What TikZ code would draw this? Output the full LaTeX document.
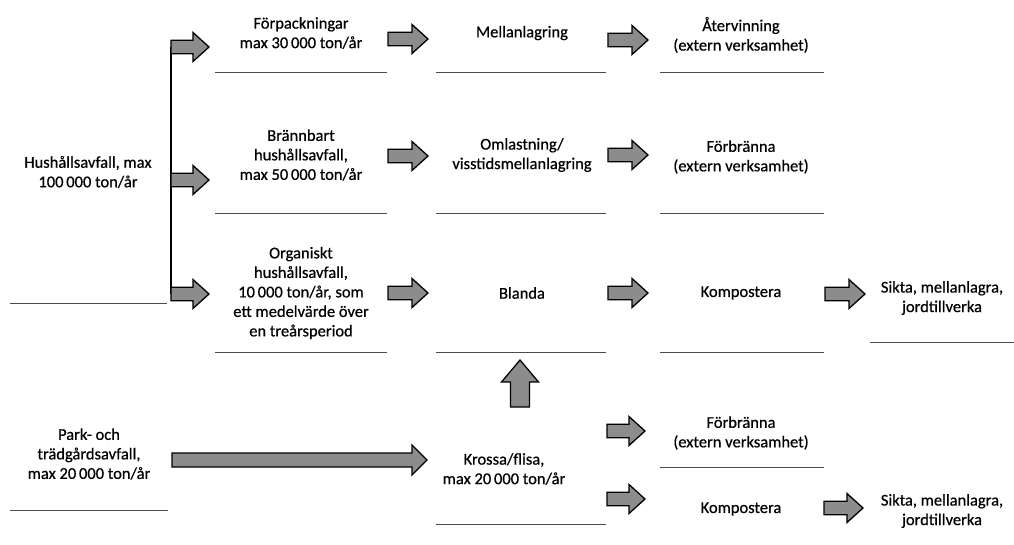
\documentclass[tikz,border=0pt]{standalone}
\usepackage{fontspec}
\setmainfont{Carlito}[FakeBold=0.6]
\usetikzlibrary{calc}
\newcommand\blockarrow[5]{%
  \draw[blk] let \p1=(#1), \p2=(#2) in
    (\x1,\y1+#3) -- (\x2-#5,\y1+#3) -- (\x2-#5,\y1+#4) -- (\x2,\y1)
    -- (\x2-#5,\y1-#4) -- (\x2-#5,\y1-#3) -- (\x1,\y1-#3) -- cycle;}
\newcommand\smallarrow[2]{\blockarrow{#1}{#2}{6.8pt}{14.5pt}{16pt}}
\tikzset{
  lbl/.style={align=center, font=\fontsize{16.5}{19.5}\selectfont, inner sep=0pt},
  uline/.style={draw=black!70, line width=0.9pt},
  blk/.style={draw=black, line width=1.3pt, fill=black!45, line join=miter},
  brk/.style={draw=black, line width=1.8pt}
}
\begin{document}
\begin{tikzpicture}[x=1pt,y=-1pt]
\path[use as bounding box] (0,0) rectangle (1014,545);
% column 1
\node[lbl] (hush) at (88,172) {Hushållsavfall, max\\100\,000 ton/år};
\draw[uline] (10,303) -- (167,303);
\node[lbl] (park) at (89,454) {Park- och\\trädgårdsavfall,\\max 20\,000 ton/år};
\draw[uline] (10,510) -- (168,510);
% column 2
\node[lbl] (forp) at (301,33) {Förpackningar\\max 30\,000 ton/år};
\draw[uline] (215,72) -- (387,72);
\node[lbl] (brann) at (301,155) {Brännbart\\hushållsavfall,\\max 50\,000 ton/år};
\draw[uline] (215,213) -- (387,213);
\node[lbl] (org) at (301,293) {Organiskt\\hushållsavfall,\\10\,000 ton/år, som\\ett medelvärde över\\en treårsperiod};
\draw[uline] (215,352) -- (387,352);
% column 3
\node[lbl] (mell) at (522,33) {Mellanlagring};
\draw[uline] (436,72) -- (606,72);
\node[lbl] (omla) at (522,155) {Omlastning/\\visstidsmellanlagring};
\draw[uline] (436,213) -- (606,213);
\node[lbl] (blanda) at (522,293) {Blanda};
\draw[uline] (436,352) -- (606,352);
\node[lbl] (kross) at (504,469) {Krossa/flisa,\\max 20\,000 ton/år};
\draw[uline] (436,524) -- (606,524);
% column 4
\node[lbl] (aterv) at (741,35) {Återvinning\\(extern verksamhet)};
\draw[uline] (660,72) -- (824,72);
\node[lbl] (forb1) at (741,157) {Förbränna\\(extern verksamhet)};
\draw[uline] (660,213) -- (824,213);
\node[lbl] (komp1) at (741,293) {Kompostera};
\draw[uline] (660,352) -- (824,352);
\node[lbl] (forb2) at (741,433) {Förbränna\\(extern verksamhet)};
\draw[uline] (660,467) -- (824,467);
\node[lbl] (komp2) at (741,509) {Kompostera};
% column 5
\node[lbl] (sikta1) at (942,298) {Sikta, mellanlagra,\\jordtillverka};
\draw[uline] (870,342) -- (1014,342);
\node[lbl] (sikta2) at (942,511) {Sikta, mellanlagra,\\jordtillverka};
% arrow end points
\coordinate (h1s) at (171,47);  \coordinate (h1e) at (209,47);
\coordinate (h2s) at (171,180); \coordinate (h2e) at (209,180);
\coordinate (h3s) at (171,294); \coordinate (h3e) at (209,294);
\coordinate (a1s) at (388,39);  \coordinate (a1e) at (428,39);
\coordinate (a2s) at (388,156); \coordinate (a2e) at (428,156);
\coordinate (a3s) at (388,293); \coordinate (a3e) at (428,293);
\coordinate (b1s) at (608,40);  \coordinate (b1e) at (648,40);
\coordinate (b2s) at (608,155); \coordinate (b2e) at (648,155);
\coordinate (b3s) at (608,293); \coordinate (b3e) at (648,293);
\coordinate (c3s) at (825,294); \coordinate (c3e) at (865,294);
\coordinate (ls) at (172,460);  \coordinate (le) at (427,460);
\coordinate (k1s) at (607,431); \coordinate (k1e) at (645,431);
\coordinate (k2s) at (607,499); \coordinate (k2e) at (645,499);
\coordinate (c5s) at (824,508); \coordinate (c5e) at (863,508);
\coordinate (us) at (520,407);  \coordinate (ue) at (520,360);
% bracket
\draw[brk] (h1s) -- (h3s);
% arrows
\smallarrow{h1s}{h1e}\smallarrow{h2s}{h2e}\smallarrow{h3s}{h3e}
\smallarrow{a1s}{a1e}\smallarrow{a2s}{a2e}\smallarrow{a3s}{a3e}
\smallarrow{b1s}{b1e}\smallarrow{b2s}{b2e}\smallarrow{b3s}{b3e}
\smallarrow{c3s}{c3e}
\smallarrow{k1s}{k1e}\smallarrow{k2s}{k2e}
\smallarrow{c5s}{c5e}
\blockarrow{ls}{le}{7pt}{15pt}{15pt}
\draw[blk] let \p1=(us), \p2=(ue) in
  (\x1-9.5pt,\y1) -- (\x1-9.5pt,\y2-22pt) -- (\x1-18.5pt,\y2-22pt) -- (\x2,\y2)
  -- (\x1+18.5pt,\y2-22pt) -- (\x1+9.5pt,\y2-22pt) -- (\x1+9.5pt,\y1) -- cycle;
\end{tikzpicture}
\end{document}
